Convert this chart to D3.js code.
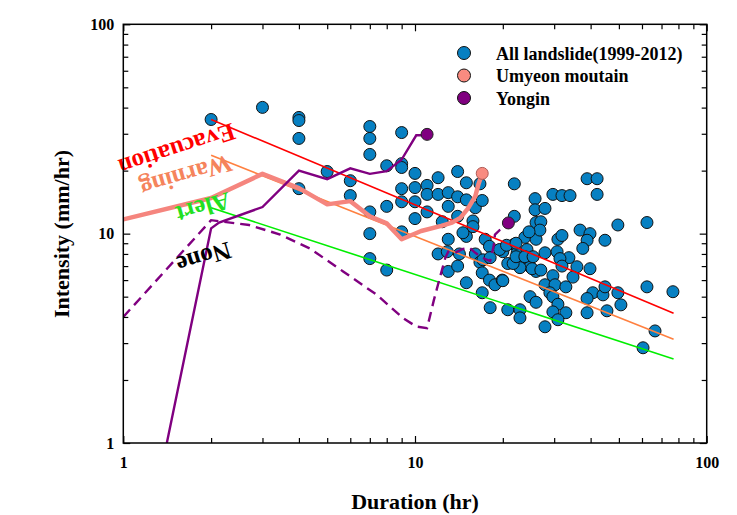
<!DOCTYPE html>
<html>
<head>
<meta charset="utf-8">
<script src="https://cdn.jsdelivr.net/npm/d3@7"></script>
<style>
  html, body { margin: 0; padding: 0; background: #fff; }
  text { font-family: "Liberation Serif", "Times New Roman", serif; font-weight: bold; }
</style>
</head>
<body>
<script>
// ---------------- DATA ----------------
const allDuration = [2.0,3.0,4.0,4.0,4.0,4.0,5.0,7.0,7.0,7.0,
  9.0,8.0,9.0,9.0,6.0,6.0,9.0,7.0,8.0,9.0,
  7.0,9.0,7.0,8.0,10.0,10.0,10.0,10.0,11.0,11.0,
  11.0,12.0,12.0,12.4,13.0,13.0,13.0,14.0,14.0,14.0,
  15.0,15.0,15.0,14.6,16.1,15.8,15.8,17.0,16.7,17.4,
  18.0,20.0,21.9,21.9,21.9,12.0,12.9,13.0,14.0,14.2,
  15.0,16.1,16.7,17.1,18.1,17.0,18.0,18.8,19.9,17.0,
  18.1,20.8,22.9,22.9,19.5,20.6,22.4,23.5,24.2,23.8,
  26.0,24.8,26.0,22.9,20.8,26.0,27.0,25.8,25.8,27.9,
  26.8,24.6,20.0,21.7,22.2,23.8,25.4,25.2,27.0,27.9,
  30.7,33.7,31.4,31.9,35.9,39.8,29.7,34.8,27.9,30.2,
  32.9,29.0,24.8,26.0,29.7,30.9,40.7,44.1,44.8,49.6,
  50.8,38.9,62.4,76.6,29.7,32.9,30.9,38.9,45.5,27.9,
  66.5,60.5,29.7,31.9,34.0,38.9,42.1,42.1,30.9,31.9,
  36.8,39.8,38.9,44.8,49.6,62.4,37.6,22.2];
const allIntensity = [35.1,40.1,35.9,34.7,28.5,16.4,19.8,32.5,28.5,23.9,
  30.4,21.1,21.6,20.7,17.9,15.2,16.4,12.7,13.5,14.2,
  10.0,10.2,7.6,6.7,19.4,16.6,11.8,14.2,17.0,15.4,
  12.7,18.5,15.4,11.4,15.7,13.5,9.4,19.8,15.0,12.1,
  17.5,14.5,9.7,10.1,13.3,11.5,10.8,14.4,17.3,9.4,
  8.7,8.2,8.9,17.3,12.1,8.0,8.2,6.6,7.0,8.0,
  5.83,8.0,7.3,7.5,7.68,6.5,6.0,5.7,6.0,5.22,
  4.43,4.33,4.33,3.96,8.4,8.8,8.1,7.68,8.4,9.6,
  9.4,6.95,6.6,6.88,7.2,11.3,11.4,14.7,13.0,13.2,
  10.4,10.2,5.96,7.2,7.76,7.76,7.76,6.8,6.7,8.1,
  8.2,7.68,7.6,7.0,6.95,6.8,6.3,6.2,5.7,5.7,
  5.57,5.22,5.0,4.7,5.0,4.6,5.22,5.1,5.57,5.22,
  4.57,4.9,5.57,5.28,4.23,4.19,3.88,4.19,4.28,3.59,
  3.43,2.85,15.4,15.2,15.2,18.3,18.3,15.4,9.4,9.8,
  10.4,10.0,9.3,9.3,11.0,11.3,8.5,9.0];

// threshold lines [duration, intensity] end points
const evacuationLine = [[2, 35.1], [77, 4.17]];
const warningLine    = [[2, 23.7], [77, 3.13]];
const alertLine      = [[2, 13.3], [77, 2.52]];

// Umyeon mountain rainfall path and event
const umyeonPath = [[1,11.7],[2,14.8],[3,19.3],[4,16.5],[5,13.8],[6,14.3],[7,12.1],[8,11.2],
  [9,9.4],[10.5,10.3],[12.3,10.9],[13.4,11.3],[14.3,11.9],[15.2,13.2],[16.1,15.1],[16.5,17.2],[17,19.4]];
const umyeonEvent = [[17, 19.4]];

// Yongin rainfall paths and events
const yonginSolid = [[1.41,1],[2,10.6],[2.13,11.3],[3,13.4],[4,20],[5,18.2],[6,20.5],[7,19.3],
  [8,19.9],[9,22.6],[10.1,29.5],[10.5,29.5],[11,29.8]];
const yonginDashed = [[1,4.0],[2,11.6],[2.7,11.0],[3.45,9.9],[4.36,8.5],[5.67,6.6],[7.4,5.1],
  [9.1,3.95],[10.1,3.6],[11,3.54],[11.6,4.8],[12.2,6.25],[12.7,7.65],[13,8.2],[13.7,8.1],
  [14.6,8.45],[15.4,8.55],[16.1,8.1],[17.1,7.65],[18.1,7.4],[18.6,8.7],[18.8,9.9],[19.5,10.4],
  [20.4,10.8],[20.9,11.25]];
const yonginEvents = [[11, 29.8], [20.9, 11.25]];

const xMajorTicks = [1, 10, 100];
const xMinorTicks = [2,3,4,5,6,7,8,9,20,30,40,50,60,70,80,90];
const yMajorTicks = [1, 10, 100];
const yMinorTicks = [2,3,4,5,6,7,8,9,20,30,40,50,60,70,80,90];

const legendLabels = ["All landslide(1999-2012)", "Umyeon moutain", "Yongin"];
const lineLabels = ["Evacuation", "Warning", "Alert", "None"];

// ---------------- DRAW ----------------
const W = 737, H = 515;
const L = 123.3, R = 706.7, T = 24.3, B = 443;
const svg = d3.select("body").append("svg").attr("width", W).attr("height", H);

const x = d3.scaleLog().domain([1, 100]).range([L, R]);
const y = d3.scaleLog().domain([1, 100]).range([B, T]);

svg.append("clipPath").attr("id", "plotclip")
  .append("rect").attr("x", L).attr("y", T).attr("width", R - L).attr("height", B - T);

const plot = svg.append("g").attr("clip-path", "url(#plotclip)");

// scatter of all landslides
const pts = d3.zip(allDuration, allIntensity);
plot.append("g").selectAll("circle").data(pts).join("circle")
  .attr("cx", d => x(d[0])).attr("cy", d => y(d[1])).attr("r", 6)
  .attr("fill", "#0780c2").attr("stroke", "#111").attr("stroke-width", 1);

const line = d3.line().x(d => x(d[0])).y(d => y(d[1]));

// threshold lines
plot.append("path").attr("d", line(evacuationLine)).attr("fill", "none").attr("stroke", "#ff0000").attr("stroke-width", 1.6);
plot.append("path").attr("d", line(warningLine)).attr("fill", "none").attr("stroke", "#ff8040").attr("stroke-width", 1.6);
plot.append("path").attr("d", line(alertLine)).attr("fill", "none").attr("stroke", "#00ee00").attr("stroke-width", 1.6);

// Umyeon path
plot.append("path").attr("d", line(umyeonPath)).attr("fill", "none")
  .attr("stroke", "#f5857e").attr("stroke-width", 4.5).attr("stroke-linejoin", "round");

// Yongin paths
plot.append("path").attr("d", line(yonginSolid)).attr("fill", "none")
  .attr("stroke", "#800080").attr("stroke-width", 2.4);
plot.append("path").attr("d", line(yonginDashed)).attr("fill", "none")
  .attr("stroke", "#800080").attr("stroke-width", 2.4).attr("stroke-dasharray", "10,6");

// event markers
plot.append("g").selectAll("circle").data(umyeonEvent).join("circle")
  .attr("cx", d => x(d[0])).attr("cy", d => y(d[1])).attr("r", 6)
  .attr("fill", "#f98b80").attr("stroke", "#b05a55").attr("stroke-width", 1);
plot.append("g").selectAll("circle").data(yonginEvents).join("circle")
  .attr("cx", d => x(d[0])).attr("cy", d => y(d[1])).attr("r", 6)
  .attr("fill", "#800080").attr("stroke", "#222").attr("stroke-width", 1);

// line labels (upside-down text)
const labelPos = [
  {t: lineLabels[0], d: 1.528, i: 25.2, a: 162, c: "#ff0000"},
  {t: lineLabels[1], d: 1.642, i: 18.9, a: 164, c: "#f5845c"},
  {t: lineLabels[2], d: 1.879, i: 13.3, a: 164, c: "#22e022"},
  {t: lineLabels[3], d: 1.89,  i: 7.68, a: 163, c: "#000000"}
];
svg.append("g").selectAll("text").data(labelPos).join("text")
  .attr("transform", d => `translate(${x(d.d)},${y(d.i)}) rotate(${d.a})`)
  .attr("text-anchor", "middle").attr("dominant-baseline", "central")
  .attr("font-size", 25).attr("fill", d => d.c).text(d => d.t);

// axes
function styleAxis(g) {
  g.select(".domain").remove();
  g.selectAll(".tick line").attr("stroke", "#000").attr("stroke-width", 1.2);
  g.selectAll(".tick text").attr("fill", "#000").attr("font-size", 16)
    .attr("font-family", "Liberation Serif, Times New Roman, serif").attr("font-weight", "bold");
}
svg.append("g").attr("transform", `translate(0,${B})`)
  .call(d3.axisBottom(x).tickValues(xMinorTicks).tickSize(-5).tickFormat("")).call(styleAxis);
svg.append("g").attr("transform", `translate(0,${B})`)
  .call(d3.axisBottom(x).tickValues(xMajorTicks).tickSize(-7).tickPadding(14).tickFormat(d3.format("d"))).call(styleAxis);
svg.append("g").attr("transform", `translate(0,${T})`)
  .call(d3.axisTop(x).tickValues(xMinorTicks).tickSize(-5).tickFormat("")).call(styleAxis);
svg.append("g").attr("transform", `translate(0,${T})`)
  .call(d3.axisTop(x).tickValues(xMajorTicks).tickSize(-7).tickFormat("")).call(styleAxis);
svg.append("g").attr("transform", `translate(${L},0)`)
  .call(d3.axisLeft(y).tickValues(yMinorTicks).tickSize(-5).tickFormat("")).call(styleAxis);
svg.append("g").attr("transform", `translate(${L},0)`)
  .call(d3.axisLeft(y).tickValues(yMajorTicks).tickSize(-7).tickPadding(9).tickFormat(d3.format("d"))).call(styleAxis);
svg.append("g").attr("transform", `translate(${R},0)`)
  .call(d3.axisRight(y).tickValues(yMinorTicks).tickSize(-5).tickFormat("")).call(styleAxis);
svg.append("g").attr("transform", `translate(${R},0)`)
  .call(d3.axisRight(y).tickValues(yMajorTicks).tickSize(-7).tickFormat("")).call(styleAxis);

// frame
svg.append("rect").attr("x", L).attr("y", T).attr("width", R - L).attr("height", B - T)
  .attr("fill", "none").attr("stroke", "#000").attr("stroke-width", 1.5);

// axis titles
svg.append("text").attr("x", (L + R) / 2).attr("y", 509).attr("text-anchor", "middle")
  .attr("font-size", 22).attr("fill", "#000").text("Duration (hr)");
svg.append("text").attr("transform", `translate(69,234) rotate(-90)`).attr("text-anchor", "middle")
  .attr("font-size", 22).attr("fill", "#000").text("Intensity (mm/hr)");

// legend
const legendColors = ["#0780c2", "#f98b80", "#800080"];
const lg = svg.append("g");
legendLabels.forEach((lab, k) => {
  const cy = 53 + k * 22.5;
  lg.append("circle").attr("cx", 464).attr("cy", cy).attr("r", 6.5)
    .attr("fill", legendColors[k]).attr("stroke", "#111").attr("stroke-width", 1);
  lg.append("text").attr("x", 496).attr("y", cy + 6.5).attr("font-size", 18)
    .attr("fill", "#000").text(lab);
});
</script>
</body>
</html>
